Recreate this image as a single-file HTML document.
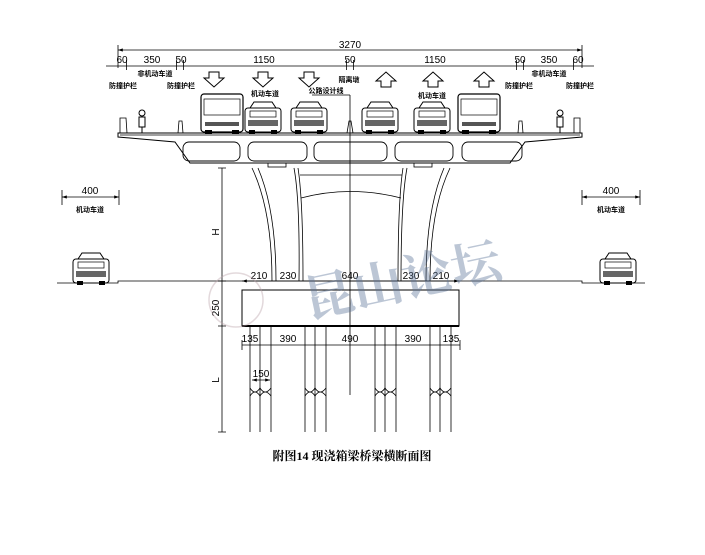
<!DOCTYPE html>
<html><head><meta charset="utf-8"><style>
html,body{margin:0;padding:0;background:#fff;}
svg{display:block;}
text{font-family:"Liberation Sans","Noto Sans CJK SC",sans-serif;fill:#000;}
.c{font-family:"Noto Sans CJK SC","WenQuanYi Zen Hei",sans-serif;font-size:7px;font-weight:bold;}
</style></head><body>
<svg width="705" height="555" viewBox="0 0 705 555" xmlns="http://www.w3.org/2000/svg">
<defs>
<marker id="a" markerWidth="6" markerHeight="4" refX="6" refY="2" orient="auto-start-reverse"><path d="M0,0 L6,2 L0,4z" fill="#000"/></marker>
<g id="car"><rect x="0" y="6" width="36" height="24" rx="3" fill="#fff" stroke="#000" stroke-width="1"/><path d="M5,6 L9,0 H27 L31,6" fill="none" stroke="#000"/><rect x="5" y="9" width="26" height="6" fill="none" stroke="#000" stroke-width=".7"/><rect x="3" y="18" width="30" height="6" fill="#666"/><rect x="4" y="28" width="6" height="4" fill="#000"/><rect x="26" y="28" width="6" height="4" fill="#000"/></g>
<g id="bus"><rect x="0" y="0" width="42" height="38" rx="3" fill="#fff" stroke="#000" stroke-width="1.2"/><rect x="3" y="5" width="36" height="16" fill="none" stroke="#000" stroke-width=".7"/><rect x="4" y="28" width="34" height="4" fill="#555"/><rect x="4" y="36" width="7" height="4" fill="#000"/><rect x="31" y="36" width="7" height="4" fill="#000"/></g>
<g id="dn"><path d="M-5,0 H5 V6 H10 L0,15 L-10,6 H-5Z" fill="#fff" stroke="#000"/></g>
<g id="up"><path d="M-5,15 H5 V9 H10 L0,0 L-10,9 H-5Z" fill="#fff" stroke="#000"/></g>
</defs>
<g stroke="#000" stroke-width=".8" fill="none">
<!-- top dims -->
<line x1="118" y1="50" x2="582" y2="50" marker-start="url(#a)" marker-end="url(#a)"/>
<line x1="118" y1="45" x2="118" y2="68"/><line x1="582" y1="45" x2="582" y2="68"/>
<line x1="106" y1="66" x2="594" y2="66"/>
<g>
<line x1="126.5" y1="60" x2="126.5" y2="70"/><line x1="176.5" y1="60" x2="176.5" y2="70"/><line x1="183.5" y1="60" x2="183.5" y2="70"/>
<line x1="346.5" y1="60" x2="346.5" y2="70"/><line x1="353.5" y1="60" x2="353.5" y2="70"/>
<line x1="516.5" y1="60" x2="516.5" y2="70"/><line x1="523.5" y1="60" x2="523.5" y2="70"/><line x1="573.5" y1="60" x2="573.5" y2="70"/>
</g>
<!-- centerline -->
<line x1="350" y1="95" x2="350" y2="395"/>
<line x1="312" y1="95" x2="350" y2="95"/>
<!-- deck -->
<path d="M118,133 H582 V137 L525,142 L510,163 H190 L175,142 L118,137Z" stroke-width="1"/>
<line x1="120" y1="135" x2="580" y2="135"/>
<g stroke-width=".9">
<rect x="183" y="142" width="57" height="19" rx="6"/>
<rect x="248" y="142" width="59" height="19" rx="6"/>
<rect x="314" y="142" width="73" height="19" rx="6"/>
<rect x="395" y="142" width="58" height="19" rx="6"/>
<rect x="462" y="142" width="60" height="19" rx="6"/>
</g>
<!-- barriers -->
<path d="M120,133 V118 H126 L127,133"/><path d="M178,133 L179,121 H182 L183,133"/>
<path d="M347,133 L349,121 H351 L353,133"/>
<path d="M518,133 L519,121 H522 L523,133"/><path d="M574,133 V118 H580 V133"/>
<!-- bearings -->
<rect x="268" y="163" width="18" height="4"/><rect x="414" y="163" width="18" height="4"/>
<!-- piers -->
<path d="M252,168 Q272,210 272,281"/><path d="M258,168 Q276,210 276,281"/>
<path d="M298,168 Q303,200 303,281"/><path d="M294,168 Q300,200 299,281"/>
<path d="M450,168 Q430,210 430,281"/><path d="M444,168 Q426,210 426,281"/>
<path d="M403,168 Q398,200 398,281"/><path d="M407,168 Q401,200 401,281"/>
<line x1="300" y1="175" x2="402" y2="175"/>
<path d="M301,198 Q350,185 401,198"/>
<!-- ground -->
<path d="M57,283 H118 V281 H582 V283 H645"/>
<!-- cap -->
<rect x="242" y="290" width="217" height="36" stroke-width="1"/>
<line x1="242" y1="326" x2="459" y2="326" stroke-width="2"/>
<line x1="242" y1="281" x2="459" y2="281" marker-start="url(#a)" marker-end="url(#a)"/>
<!-- piles -->
<g>
<path d="M250,326 V432 M260,326 V432 M271,326 V432"/>
<path d="M305,326 V432 M315,326 V432 M326,326 V432"/>
<path d="M375,326 V432 M385,326 V432 M396,326 V432"/>
<path d="M430,326 V432 M440,326 V432 M451,326 V432"/>
<path d="M250,388 q5,8 10,0 q5,8 11,0 M250,396 q5,-8 10,0 q5,-8 11,0"/>
<path d="M305,388 q5,8 10,0 q5,8 11,0 M305,396 q5,-8 10,0 q5,-8 11,0"/>
<path d="M375,388 q5,8 10,0 q5,8 11,0 M375,396 q5,-8 10,0 q5,-8 11,0"/>
<path d="M430,388 q5,8 10,0 q5,8 11,0 M430,396 q5,-8 10,0 q5,-8 11,0"/>
</g>
<line x1="242" y1="345" x2="460" y2="345"/>
<path d="M242,340 V350 M460,340 V350"/>
<line x1="252" y1="380" x2="270" y2="380" marker-start="url(#a)" marker-end="url(#a)"/>
<!-- vertical dims -->
<line x1="222" y1="168" x2="222" y2="432"/>
<path d="M218,168 H226 M218,281 H226 M218,326 H226 M218,432 H226"/>
<!-- side dims -->
<line x1="62" y1="197" x2="119" y2="197" marker-start="url(#a)" marker-end="url(#a)"/>
<path d="M62,190 V205 M119,190 V205"/>
<line x1="582" y1="197" x2="640" y2="197" marker-start="url(#a)" marker-end="url(#a)"/>
<path d="M582,190 V205 M640,190 V205"/>
</g>
<!-- vehicles -->
<use href="#bus" x="201" y="94"/>
<use href="#car" x="245" y="102"/>
<use href="#car" x="291" y="102"/>
<use href="#car" x="362" y="102"/>
<use href="#car" x="414" y="102"/>
<use href="#bus" x="458" y="94"/>
<use href="#car" x="73" y="253"/>
<use href="#car" x="600" y="253"/>
<g fill="none" stroke="#000"><circle cx="142" cy="113" r="3"/><path d="M139,117 h6 v10 h-6z M142,127 v6"/><circle cx="560" cy="113" r="3"/><path d="M557,117 h6 v10 h-6z M560,127 v6"/></g>
<!-- arrows -->
<use href="#dn" x="214" y="72"/><use href="#dn" x="263" y="72"/><use href="#dn" x="309" y="72"/>
<use href="#up" x="386" y="72"/><use href="#up" x="433" y="72"/><use href="#up" x="484" y="72"/>
<!-- dim text -->
<g font-size="10">
<text x="350" y="48" text-anchor="middle">3270</text>
<text x="122" y="63" text-anchor="middle">60</text>
<text x="152" y="63" text-anchor="middle">350</text>
<text x="181" y="63" text-anchor="middle">50</text>
<text x="264" y="63" text-anchor="middle">1150</text>
<text x="350" y="63" text-anchor="middle">50</text>
<text x="435" y="63" text-anchor="middle">1150</text>
<text x="520" y="63" text-anchor="middle">50</text>
<text x="549" y="63" text-anchor="middle">350</text>
<text x="578" y="63" text-anchor="middle">60</text>
<text x="90" y="194" text-anchor="middle">400</text>
<text x="611" y="194" text-anchor="middle">400</text>
<text x="259" y="279" text-anchor="middle">210</text>
<text x="288" y="279" text-anchor="middle">230</text>
<text x="350" y="279" text-anchor="middle">640</text>
<text x="411" y="279" text-anchor="middle">230</text>
<text x="441" y="279" text-anchor="middle">210</text>
<text x="250" y="342" text-anchor="middle">135</text>
<text x="288" y="342" text-anchor="middle">390</text>
<text x="350" y="342" text-anchor="middle">490</text>
<text x="413" y="342" text-anchor="middle">390</text>
<text x="451" y="342" text-anchor="middle">135</text>
<text x="261" y="377" text-anchor="middle">150</text>
<text transform="translate(219,232) rotate(-90)" text-anchor="middle">H</text>
<text transform="translate(219,308) rotate(-90)" text-anchor="middle">250</text>
<text transform="translate(219,380) rotate(-90)" text-anchor="middle">L</text>
</g>
<!-- labels -->
<g class="c">
<text x="123" y="88" text-anchor="middle">防撞护栏</text>
<text x="155" y="76" text-anchor="middle">非机动车道</text>
<text x="181" y="88" text-anchor="middle">防撞护栏</text>
<text x="265" y="96" text-anchor="middle">机动车道</text>
<text x="326" y="93" text-anchor="middle">公路设计线</text>
<text x="349" y="82" text-anchor="middle">隔离墩</text>
<text x="432" y="98" text-anchor="middle">机动车道</text>
<text x="519" y="88" text-anchor="middle">防撞护栏</text>
<text x="549" y="76" text-anchor="middle">非机动车道</text>
<text x="580" y="88" text-anchor="middle">防撞护栏</text>
<text x="90" y="212" text-anchor="middle">机动车道</text>
<text x="611" y="212" text-anchor="middle">机动车道</text>
</g>
<!-- watermark -->
<g opacity="0.4">
<circle cx="236" cy="300" r="27" fill="none" stroke="#b8a0a8" stroke-width="1.5"/>
<text x="300" y="300" font-size="50" font-weight="bold" fill="#5a7398" transform="rotate(-12 390 270)" style="font-family:'Noto Serif CJK SC','Noto Sans CJK SC',serif;fill:#5a7398">昆山论坛</text>
</g>
<text x="352" y="460" text-anchor="middle" font-size="12" font-weight="bold" style="font-family:'Liberation Serif','Noto Serif CJK SC',serif">附图14  现浇箱梁桥梁横断面图</text>
</svg>
</body></html>
